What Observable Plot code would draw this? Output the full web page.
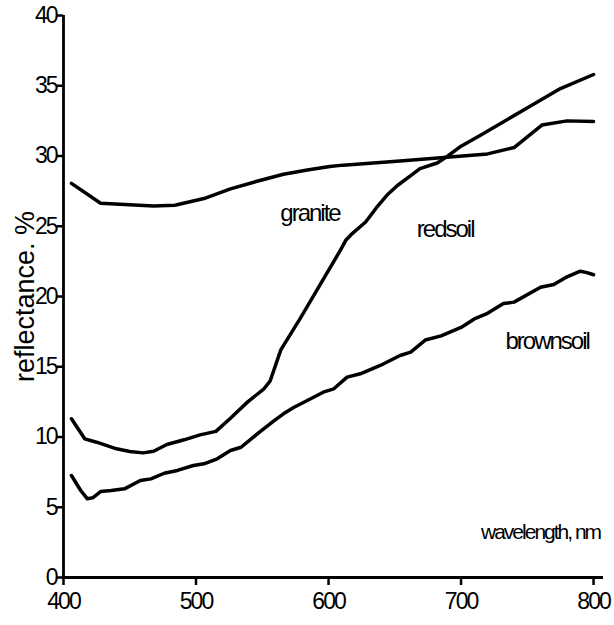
<!DOCTYPE html>
<html>
<head>
<meta charset="utf-8">
<script src="https://cdn.jsdelivr.net/npm/d3@7"></script>
<script src="https://cdn.jsdelivr.net/npm/@observablehq/plot@0.6"></script>
<style>
  html, body { margin: 0; padding: 0; background: #fff; }
</style>
</head>
<body>
<div id="chart"></div>
<script>
// wavelength (nm) and reflectance (%)
const graniteX = [406, 428, 468, 484, 506, 526, 546, 566, 584, 601, 611, 654, 687, 720, 740, 761, 780, 800];
const graniteY = [28.05, 26.64, 26.45, 26.5, 26.97, 27.66, 28.2, 28.7, 29.0, 29.25, 29.35, 29.65, 29.9, 30.15, 30.6, 32.2, 32.5, 32.45];

const redsoilX = [406, 416, 425, 440, 450, 460, 468, 478, 491, 503, 515, 526, 539, 551, 556, 564, 579, 594, 609, 613, 617, 628, 636, 644, 652, 662, 669, 682, 690, 700, 715, 735, 755, 775, 800];
const redsoilY = [11.3, 9.87, 9.63, 9.16, 8.97, 8.87, 8.99, 9.47, 9.8, 10.15, 10.4, 11.34, 12.5, 13.4, 14.0, 16.2, 18.5, 20.9, 23.3, 24.0, 24.4, 25.3, 26.3, 27.2, 27.9, 28.6, 29.1, 29.5, 30.0, 30.7, 31.5, 32.6, 33.7, 34.8, 35.8];

const brownsoilX = [406, 413, 418, 422, 428, 436, 446, 458, 466, 476, 486, 498, 506, 516, 526, 534, 546, 559, 566, 574, 584, 596, 604, 614, 624, 639, 654, 662, 673, 685, 700, 710, 720, 732, 740, 760, 770, 780, 790, 795, 800];
const brownsoilY = [7.26, 6.19, 5.6, 5.67, 6.12, 6.19, 6.31, 6.9, 7.02, 7.42, 7.62, 7.97, 8.09, 8.45, 9.04, 9.27, 10.2, 11.17, 11.65, 12.12, 12.6, 13.19, 13.43, 14.26, 14.5, 15.09, 15.8, 16.04, 16.9, 17.2, 17.8, 18.4, 18.8, 19.5, 19.6, 20.66, 20.85, 21.4, 21.8, 21.7, 21.55];

const xTicks = [400, 500, 600, 700, 800];
const yTicks = [0, 5, 10, 15, 20, 25, 30, 35, 40];

const seriesNames = ["granite", "redsoil", "brownsoil"];
const labelX = [586, 688, 765];
const labelY = [25.9, 24.8, 16.8];

const xTitle = "wavelength, nm";
const xTitlePos = [760, 3.2];
const yTitle = "reflectance. %";

// condensed face if available, otherwise tighten the regular face
function textWidth(font) {
  const c = document.createElement("canvas").getContext("2d");
  c.font = font;
  return c.measureText("wavelength granite 0123456789").width;
}
const hasNarrow = textWidth("24px 'Liberation Sans Narrow', monospace") !== textWidth("24px monospace");
const narrowFamily = hasNarrow ? "'Liberation Sans Narrow', 'Liberation Sans', Arial, sans-serif" : "'Liberation Sans', Arial, sans-serif";
const narrowSpacing = hasNarrow ? "-0.3px" : "-2px";

const toRows = (xs, ys) => xs.map((x, i) => ({x, y: ys[i]}));
const curves = [toRows(graniteX, graniteY), toRows(redsoilX, redsoilY), toRows(brownsoilX, brownsoilY)];
const seriesLabels = seriesNames.map((t, i) => ({t, x: labelX[i], y: labelY[i]}));

const chart = Plot.plot({
  width: 614,
  height: 625,
  marginLeft: 63,
  marginRight: 11,
  marginTop: 15,
  marginBottom: 48,
  style: {fontFamily: "'Liberation Sans', Arial, sans-serif", color: "#000", background: "#fff"},
  x: {domain: [400, 807.5]},
  y: {domain: [0, 40]},
  marks: [
    Plot.axisX({ticks: xTicks, tickSize: 8, tickPadding: 7, fontSize: 23, strokeWidth: 2.5, label: null, tickFormat: d => String(d)}),
    Plot.axisY({ticks: yTicks, tickSize: 6, tickPadding: 1, fontSize: 23, strokeWidth: 2.5, label: null, tickFormat: d => String(d)}),
    Plot.ruleY([0], {strokeWidth: 2.8}),
    Plot.ruleX([400], {strokeWidth: 2.8}),
    ...curves.map(rows => Plot.line(rows, {x: "x", y: "y", strokeWidth: 3.5, stroke: "#000", curve: "linear"})),
    Plot.text(seriesLabels, {x: "x", y: "y", text: "t", fontSize: 24, fill: "#000"}),
    Plot.text([xTitle], {x: () => xTitlePos[0], y: () => xTitlePos[1], text: d => d, fontSize: 21, fill: "#000"}),
    Plot.text([yTitle], {frameAnchor: "left", textAnchor: "middle", rotate: -90, dx: -38, text: d => d, fontSize: 27, fill: "#000"})
  ]
});
document.getElementById("chart").appendChild(chart);

// apply the condensed look to every text except the y title
const textGroups = chart.querySelectorAll('g[aria-label="text"]');
const yTitleGroup = textGroups[textGroups.length - 1];
chart.querySelectorAll("text").forEach(t => {
  if (yTitleGroup.contains(t)) return;
  t.style.fontFamily = narrowFamily;
  t.style.letterSpacing = narrowSpacing;
});
</script>
</body>
</html>
